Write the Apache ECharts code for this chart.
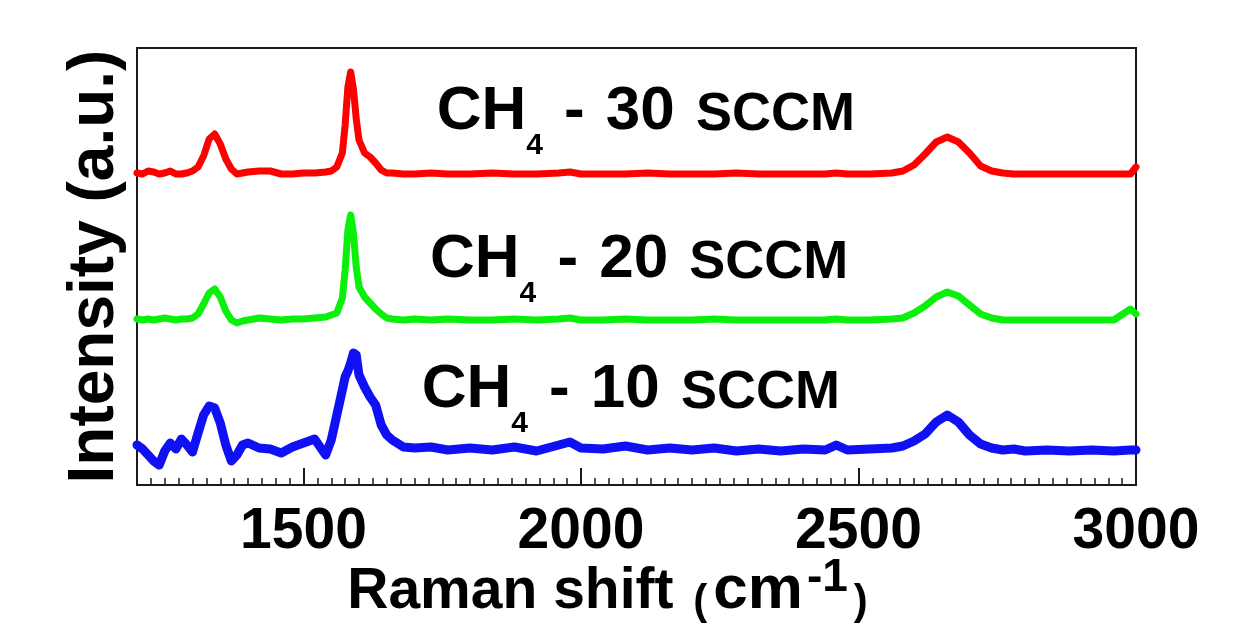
<!DOCTYPE html>
<html><head><meta charset="utf-8">
<script src="https://cdn.jsdelivr.net/npm/echarts@6/dist/echarts.min.js"></script>
<style>html,body{margin:0;padding:0;background:#fff}#c{width:1248px;height:624px}</style>
</head><body><div id="c"></div>
<script>
// Raman shift (cm-1) sample positions
const wavenumbers = [1200,1210,1220,1230,1240,1250,1260,1270,1280,1290,1300,1310,1320,1330,1340,1350,1360,1370,1380,1390,1400,
  1420,1440,1460,1480,1500,1520,1540,1550,1560,1570,1575,1580,1585,1590,1595,1600,1610,1620,1630,1640,1650,1660,
  1680,1700,1730,1760,1800,1840,1880,1920,1960,1980,2000,2040,2080,2120,2160,2200,2240,2280,2320,2360,2400,2440,
  2460,2480,2520,2560,2580,2600,2620,2640,2660,2680,2700,2720,2740,2760,2780,2800,2840,2880,2920,2960,2990,3000];
// Intensities (a.u., stacked offsets included)
const ch4_30 = [312,311,314,313,311,312,314,311,311,312,314,318,329,346,351,341,326,316,311,312,313,
  314,314,311,311,312,312,313,314,318,332,360,398,413,396,366,345,332,328,322,315,312,312,
  311,311,312,311,311,312,311,311,312,313,311,311,311,312,311,311,311,312,311,311,311,311,
  312,311,311,312,314,320,331,343,348,343,332,319,314,312,311,311,311,311,311,311,311,318];
const ch4_20 = [166,165,166,165,166,167,166,165,166,166,167,171,181,192,196,188,174,165,162,164,165,
  167,166,165,166,166,167,168,170,172,187,215,255,270,252,218,198,188,182,176,171,167,166,
  165,166,165,166,165,165,166,165,166,167,165,165,166,165,165,165,166,165,165,165,165,165,
  166,165,165,166,167,172,179,188,193,189,180,171,167,165,165,165,165,165,165,165,176,171];
const ch4_10 = [40,36,30,24,20,34,42,36,46,40,33,52,70,79,77,62,40,24,30,40,42,
  37,36,32,38,42,46,30,45,70,95,108,114,122,132,130,110,98,88,80,60,50,45,
  38,37,38,35,37,35,38,34,40,43,37,36,39,35,37,35,37,34,36,34,36,35,
  40,35,36,37,39,44,51,63,70,63,50,41,37,35,36,34,35,34,35,34,35,35];
const majorTicks = [1500, 2000, 2500, 3000];
const flows = ['30', '20', '10'];

const F = '"Liberation Sans", Arial, Helvetica, sans-serif';
const chart = echarts.init(document.getElementById('c'), null, {renderer: 'canvas'});

function tok(fs, padTop, padLeft) {
  return {fontSize: fs, fontWeight: 'bold', fontFamily: F, color: '#000', verticalAlign: 'top', padding: [padTop, 0, 0, padLeft || 0]};
}
const annRich = {m: tok(62, 0), sp: tok(76, 0), c: tok(54, 7), s: tok(30, 50)};

function mkSeries(vals, color, width, flow, anchor) {
  return {
    type: 'line',
    name: 'CH4 - ' + flow + ' SCCM',
    data: wavenumbers.map((x, i) => [x, vals[i]]),
    symbol: 'none', showSymbol: false,
    lineStyle: {color: color, width: width, cap: 'round', join: 'round'},
    itemStyle: {color: color},
    xAxisIndex: 0, yAxisIndex: 0,
    markPoint: {
      symbol: 'circle', symbolSize: 0, silent: true,
      data: [{coord: anchor}],
      label: {
        show: true, position: [0, 0], align: 'left', verticalAlign: 'top',
        formatter: '{m|CH}{s|4}{sp| }{m|-}{sp| }{m|' + flow + '}{sp| }{c|SCCM}',
        rich: annRich
      }
    }
  };
}

const option = {
  animation: false,
  backgroundColor: '#ffffff',
  grid: {left: 137, right: 112, top: 48, bottom: 139, outerBoundsMode: 'none', containLabel: false,
    show: true, borderColor: '#1a1a1a', borderWidth: 2, backgroundColor: 'transparent'},
  xAxis: [
    {
      type: 'value', min: 1200, max: 3000, interval: 25, position: 'bottom',
      axisLine: {show: true, onZero: false, lineStyle: {color: '#1a1a1a', width: 2}},
      axisTick: {show: true, inside: true, length: 7, lineStyle: {color: '#1a1a1a', width: 1.5}},
      axisLabel: {show: false},
      splitLine: {show: false}
    },
    {
      type: 'value', min: 1200, max: 3000, interval: 100, position: 'bottom',
      axisLine: {show: false, onZero: false},
      axisTick: {show: true, inside: true, length: 17, customValues: majorTicks, lineStyle: {color: '#1a1a1a', width: 2}},
      axisLabel: {show: true, customValues: majorTicks, formatter: v => String(v), margin: 17, fontSize: 57, fontWeight: 'bold', fontFamily: F, color: '#000', lineHeight: 60, showMaxLabel: true, showMinLabel: true},
      splitLine: {show: false},
      name: '{a|Raman shift }{p|(}{c|cm}{u|-1}{q|)}',
      nameLocation: 'middle', nameGap: 70, nameMoveOverlap: false,
      nameTextStyle: {
        padding: [0, 58, 0, 0],
        rich: {a: tok(57, 9), p: tok(42, 26, 4), c: tok(62, 5, 6), u: tok(46, 0, 4), q: tok(42, 26, 6)}
      }
    }
  ],
  yAxis: {
    type: 'value', min: 0, max: 437,
    axisLine: {show: false}, axisTick: {show: false}, axisLabel: {show: false}, splitLine: {show: false},
    name: 'Intensity (a.u.)', nameLocation: 'middle', nameGap: 10, nameMoveOverlap: false,
    nameTextStyle: {fontSize: 64, fontWeight: 'bold', fontFamily: F, color: '#000', lineHeight: 64}
  },
  series: [
    mkSeries(ch4_30, '#ff0000', 7, flows[0], [1740, 404]),
    mkSeries(ch4_20, '#0af00a', 7, flows[1], [1728, 256]),
    mkSeries(ch4_10, '#1010f5', 9, flows[2], [1713, 126])
  ]
};
chart.setOption(option);
</script>
</body></html>
